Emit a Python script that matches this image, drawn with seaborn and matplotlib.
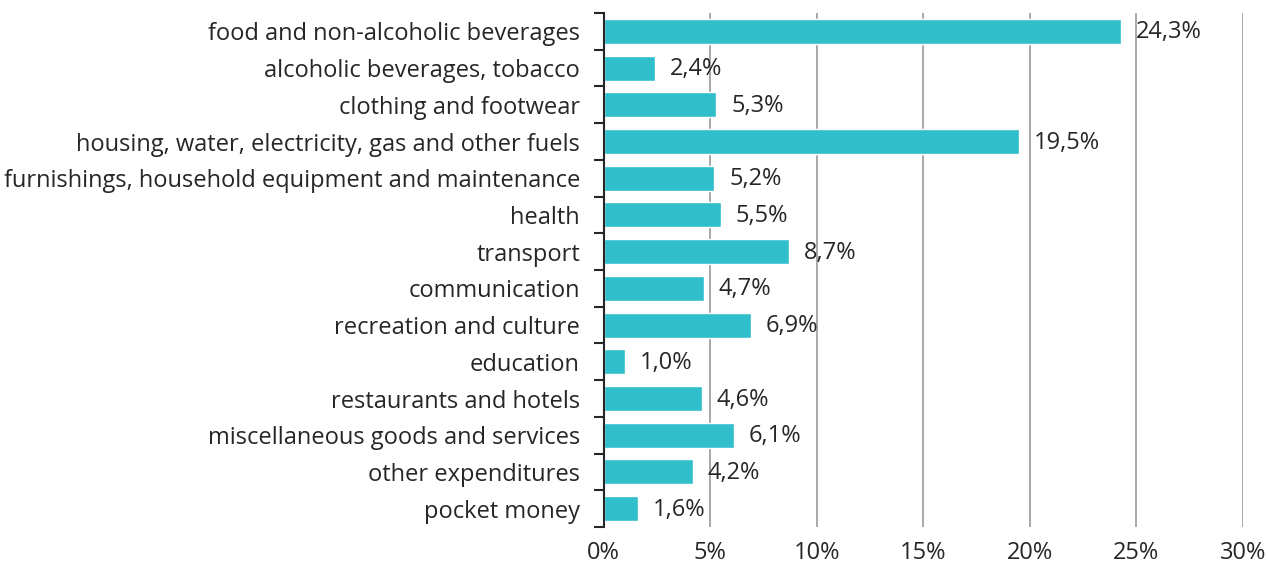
import pandas as pd
import seaborn as sns
import matplotlib.pyplot as plt
import numpy as np

categories = ['food and non-alcoholic beverages', 'alcoholic beverages, tobacco',
              'clothing and footwear', 'housing, water, electricity, gas and other fuels',
              'furnishings, household equipment and maintenance', 'health', 'transport',
              'communication', 'recreation and culture', 'education',
              'restaurants and hotels', 'miscellaneous goods and services',
              'other expenditures', 'pocket money']
shares = [24.3, 2.4, 5.3, 19.5, 5.2, 5.5, 8.7, 4.7, 6.9, 1.0, 4.6, 6.1, 4.2, 1.6]
xticks = [0, 5, 10, 15, 20, 25, 30]

df = pd.DataFrame({'category': categories, 'share': shares})

sns.set_theme(style="white")
plt.rcParams['font.family'] = ['Open Sans', 'DejaVu Sans']
text_col = '#262626'
fs = 17

fig = plt.figure(figsize=(12.68, 5.67), dpi=100)
ax = fig.add_axes([0.476, 0.0705, 0.504, 0.9065])
sns.barplot(data=df, x='share', y='category', orient='h', color='#30BECB',
            saturation=1, width=0.68, ax=ax, zorder=3)

ax.set_xlim(0, 30)
ax.set_xticks(xticks)
ax.set_xticklabels([f'{t}%' for t in xticks], fontsize=fs, color=text_col)
ax.set_xlabel('')
ax.set_ylabel('')
ax.tick_params(axis='y', length=0, pad=17, labelsize=fs, labelcolor=text_col)
ax.tick_params(axis='x', length=0, pad=10)
ax.set_yticks(np.arange(-0.5, len(categories), 1), minor=True)
ax.tick_params(axis='y', which='minor', length=7, width=1.5, color=text_col, left=True)
ax.set_ylim(len(categories) - 0.5, -0.5)

for x in xticks[1:]:
    ax.axvline(x, color='#9a9a9a', lw=1.2, zorder=1)

for s in ['top', 'right', 'bottom']:
    ax.spines[s].set_visible(False)
ax.spines['left'].set_color(text_col)
ax.spines['left'].set_linewidth(1.5)
ax.spines['left'].set_zorder(4)

for i, v in enumerate(shares):
    ax.text(v + 0.7, i + 0.03, f'{v:.1f}%'.replace('.', ','), va='center', ha='left',
            fontsize=fs, color=text_col, zorder=5)

fig.savefig('out.png', dpi=100)
